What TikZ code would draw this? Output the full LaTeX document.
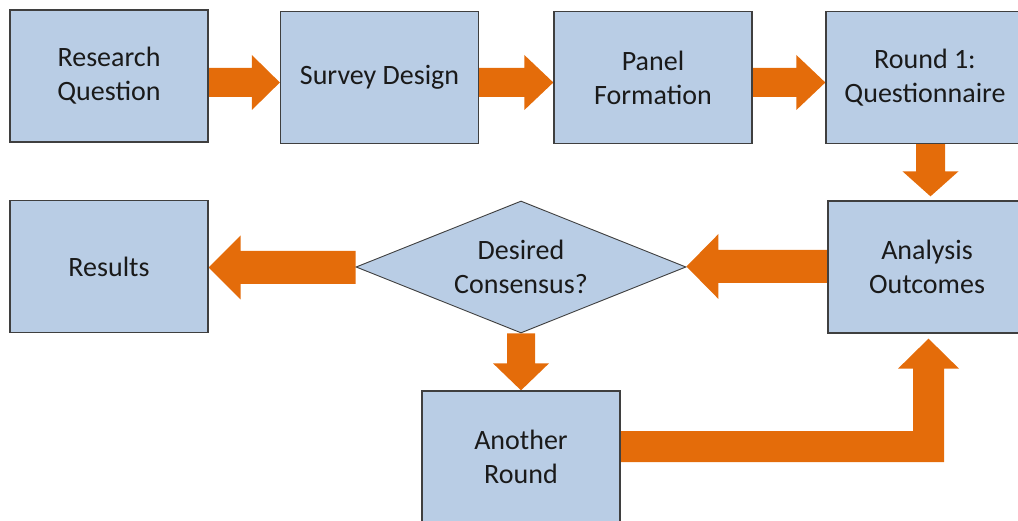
\documentclass[tikz,border=0pt]{standalone}
\usepackage{fontspec}
\setmainfont{Carlito}
\usetikzlibrary{shapes.geometric,backgrounds,calc}

\definecolor{boxfill}{HTML}{B9CDE5}
\definecolor{boxline}{HTML}{3F3F3F}
\definecolor{flow}{HTML}{E46C0A}
\definecolor{ink}{HTML}{1A1A1A}

% Horizontal block arrow: tail point, tip point, y of centre line,
% half shaft width, half head width, head length
\newcommand\harrow[6]{%
  \fill[flowarrow] let \p1=#1, \p2=#2, \n1={(\x2>\x1)?1:-1} in
    (\x1,{-(#3-#4)*1pt})
    -- ({\x2-(\n1)*#6pt},{-(#3-#4)*1pt})
    -- ({\x2-(\n1)*#6pt},{-(#3-#5)*1pt})
    -- (\x2,{-(#3)*1pt})
    -- ({\x2-(\n1)*#6pt},{-(#3+#5)*1pt})
    -- ({\x2-(\n1)*#6pt},{-(#3+#4)*1pt})
    -- (\x1,{-(#3+#4)*1pt}) -- cycle;}

% Vertical block arrow: tail point, tip point, x of centre line,
% half shaft width, half head width, head length
\newcommand\varrow[6]{%
  \fill[flowarrow] let \p1=#1, \p2=#2, \n1={(\y2>\y1)?1:-1} in
    ({(#3-#4)*1pt},\y1)
    -- ({(#3-#4)*1pt},{\y2-(\n1)*#6pt})
    -- ({(#3-#5)*1pt},{\y2-(\n1)*#6pt})
    -- ({(#3)*1pt},\y2)
    -- ({(#3+#5)*1pt},{\y2-(\n1)*#6pt})
    -- ({(#3+#4)*1pt},{\y2-(\n1)*#6pt})
    -- ({(#3+#4)*1pt},\y1) -- cycle;}

\tikzset{
  every node/.style={font=\fontsize{28}{34}\selectfont, text=ink},
  stagebox/.style={draw=boxline, fill=boxfill, line width=1.3pt,
    minimum width=198pt, minimum height=132pt, inner sep=0pt, align=center},
  decision/.style={diamond, draw=boxline, fill=boxfill, line width=0.9pt,
    minimum width=330pt, minimum height=132pt, aspect=2.5, inner sep=0pt, align=center},
  flowarrow/.style={fill=flow, draw=none}
}

\begin{document}
\begin{tikzpicture}[x=1pt,y=-1pt]
  \clip (0,0) rectangle (1018,521);

  % top row
  \node[stagebox] (rq) at (109,76)    {Research\\Question};
  \node[stagebox] (sd) at (379.5,77.5) {Survey Design};
  \node[stagebox] (pf) at (653,77.5)  {Panel\\Formation};
  \node[stagebox] (r1) at (925,77.5)  {Round 1:\\Questionnaire};

  % middle row
  \node[stagebox] (res) at (109,266.5) {Results};
  \node[decision] (dia) at (521,267)   {Desired\\Consensus?};
  \node[stagebox] (ao)  at (927,267)   {Analysis\\Outcomes};

  % bottom row
  \node[stagebox] (ar) at (521,457) {Another\\Round};

  \begin{pgfonlayer}{background}
    \harrow{(rq.east)}{(sd.west)}{82.5}{14.5}{27.5}{28}
    \harrow{(sd.east)}{(pf.west)}{82.5}{14.5}{27.5}{29}
    \harrow{(pf.east)}{(r1.west)}{82.5}{14.5}{27.5}{29}
    \varrow{(r1.south)}{([yshift=4pt]ao.north)}{930.5}{14.5}{28}{25}
    \harrow{(ao.west)}{(dia.east)}{266.5}{16.5}{32.5}{32}
    \harrow{(dia.west)}{(res.east)}{267.5}{16.5}{32}{32}
    \varrow{(dia.south)}{(ar.north)}{521}{14}{28}{27}
    % loop back from another round to the analysis
    \fill[flowarrow] let \p1=(ar.east), \p2=(ao.south) in
      (\x1,-431pt) -- (913pt,-431pt) -- (913pt,{\y2-35pt}) -- (898pt,{\y2-35pt})
      -- (928.5pt,{\y2-5pt}) -- (959pt,{\y2-35pt}) -- (944pt,{\y2-35pt})
      -- (944pt,-462pt) -- (\x1,-462pt) -- cycle;
  \end{pgfonlayer}
\end{tikzpicture}
\end{document}
